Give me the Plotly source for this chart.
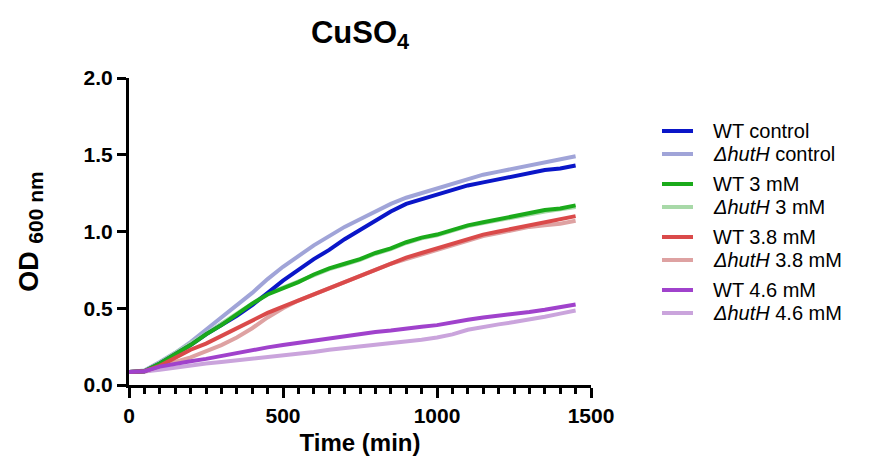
import plotly.graph_objects as go

time_min = [0, 50, 100, 150, 200, 250, 300, 350, 400, 450, 500, 550, 600, 650, 700,
            750, 800, 850, 900, 950, 1000, 1050, 1100, 1150, 1200, 1250, 1300, 1350, 1400, 1450]

wt_control = [0.085, 0.09, 0.14, 0.20, 0.26, 0.33, 0.39, 0.45, 0.52, 0.60, 0.68, 0.75, 0.82, 0.88, 0.95,
              1.01, 1.07, 1.13, 1.18, 1.21, 1.24, 1.27, 1.30, 1.32, 1.34, 1.36, 1.38, 1.40, 1.41, 1.43]
ko_control = [0.085, 0.095, 0.15, 0.21, 0.28, 0.36, 0.44, 0.52, 0.60, 0.69, 0.77, 0.84, 0.91, 0.97, 1.03,
              1.08, 1.13, 1.18, 1.22, 1.25, 1.28, 1.31, 1.34, 1.37, 1.39, 1.41, 1.43, 1.45, 1.47, 1.49]
wt_3 = [0.085, 0.09, 0.14, 0.20, 0.26, 0.33, 0.39, 0.46, 0.53, 0.59, 0.63, 0.67, 0.72, 0.76, 0.79,
        0.82, 0.86, 0.89, 0.93, 0.96, 0.98, 1.01, 1.04, 1.06, 1.08, 1.10, 1.12, 1.14, 1.15, 1.17]
ko_3 = [0.085, 0.092, 0.145, 0.205, 0.27, 0.335, 0.40, 0.465, 0.535, 0.595, 0.635, 0.675, 0.72, 0.755, 0.785,
        0.815, 0.855, 0.885, 0.925, 0.955, 0.975, 1.005, 1.035, 1.055, 1.075, 1.095, 1.115, 1.13, 1.145, 1.16]
wt_38 = [0.085, 0.09, 0.125, 0.18, 0.23, 0.27, 0.32, 0.37, 0.42, 0.47, 0.51, 0.55, 0.59, 0.63, 0.67,
         0.71, 0.75, 0.79, 0.83, 0.86, 0.89, 0.92, 0.95, 0.98, 1.00, 1.02, 1.04, 1.06, 1.08, 1.10]
ko_38 = [0.085, 0.088, 0.11, 0.15, 0.18, 0.22, 0.26, 0.31, 0.37, 0.44, 0.50, 0.55, 0.59, 0.63, 0.67,
         0.71, 0.75, 0.79, 0.82, 0.85, 0.88, 0.91, 0.94, 0.97, 0.99, 1.01, 1.03, 1.04, 1.05, 1.07]
wt_46 = [0.085, 0.09, 0.12, 0.14, 0.155, 0.17, 0.19, 0.21, 0.23, 0.245, 0.26, 0.275, 0.29, 0.30, 0.32,
         0.335, 0.345, 0.355, 0.37, 0.38, 0.39, 0.41, 0.425, 0.44, 0.45, 0.46, 0.475, 0.49, 0.505, 0.525]
ko_46 = [0.085, 0.088, 0.10, 0.115, 0.125, 0.14, 0.15, 0.16, 0.17, 0.18, 0.19, 0.20, 0.215, 0.23, 0.24,
         0.25, 0.26, 0.275, 0.285, 0.295, 0.31, 0.33, 0.36, 0.38, 0.395, 0.41, 0.425, 0.445, 0.465, 0.485]

series_names = ["WT control", "<i>ΔhutH</i> control", "WT 3 mM", "<i>ΔhutH</i> 3 mM",
                "WT 3.8 mM", "<i>ΔhutH</i> 3.8 mM", "WT 4.6 mM", "<i>ΔhutH</i> 4.6 mM"]
series_values = [wt_control, ko_control, wt_3, ko_3, wt_38, ko_38, wt_46, ko_46]
series_colors = ["#0a16c8", "#a0a4d8", "#1aaa1a", "#a8d9a8", "#da4a4a", "#dea2a2", "#a042cc", "#caa4dc"]

x_ticks = [0, 500, 1000, 1500]
y_ticks = [0.0, 0.5, 1.0, 1.5, 2.0]
y_tick_labels = ["0.0", "0.5", "1.0", "1.5", "2.0"]

fig = go.Figure()
# draw mutant (light) series first, wild type on top
draw_order = [1, 3, 5, 7, 0, 2, 4, 6]
for i in draw_order:
    fig.add_trace(go.Scatter(x=time_min, y=series_values[i], mode="lines",
                             line=dict(color=series_colors[i], width=4),
                             name=series_names[i], showlegend=False))

L, T, W, H = 129, 78, 462, 307
FIG_W, FIG_H = 878, 468

fig.update_layout(
    width=FIG_W, height=FIG_H,
    margin=dict(l=L, r=FIG_W - L - W, t=T, b=FIG_H - T - H, autoexpand=False),
    plot_bgcolor="white", paper_bgcolor="white",
    font=dict(family="Liberation Sans, Arial, sans-serif", color="black"),
    title=dict(text="<b>CuSO<sub>4</sub></b>", x=(L + W / 2) / FIG_W, xanchor="center",
               y=1 - 32 / FIG_H, yanchor="middle", font=dict(size=31, color="black")),
    showlegend=False,
)

fig.update_xaxes(
    range=[0, 1500], tickvals=x_ticks, ticktext=[str(v) for v in x_ticks],
    showline=True, linewidth=3, linecolor="black", mirror=False,
    ticks="outside", ticklen=10, tickwidth=3, tickcolor="black",
    minor=dict(dtick=50, tick0=0, ticks="outside", ticklen=6, tickwidth=2.5, tickcolor="black"),
    showgrid=False, zeroline=False,
    tickfont=dict(size=21, family="Liberation Sans, Arial", color="black", weight="bold"),
    title=dict(text="<b>Time (min)</b>", font=dict(size=24, color="black"), standoff=8),
)
fig.update_yaxes(
    range=[0, 2.0], tickvals=y_ticks, ticktext=y_tick_labels,
    showline=True, linewidth=3, linecolor="black",
    ticks="outside", ticklen=9, tickwidth=3, tickcolor="black",
    showgrid=False, zeroline=False,
    tickfont=dict(size=21, family="Liberation Sans, Arial", color="black", weight="bold"),
    title=dict(text="<b>OD <sub><span style='font-size:21px'>600 nm</span></sub></b>",
               font=dict(size=27, color="black"), standoff=38),
)

# manual legend (Prism-style compact spacing)
legend_y_px = [131, 154, 184, 207, 237, 260, 290, 313]
line_x0, line_x1, text_x = 662, 693, 711
shapes = []
for name, color, ypx in zip(series_names, series_colors, legend_y_px):
    yp = (T + H - ypx) / H
    shapes.append(dict(type="line", xref="paper", yref="paper",
                       x0=(line_x0 - L) / W, x1=(line_x1 - L) / W, y0=yp, y1=yp,
                       line=dict(color=color, width=4)))
    fig.add_annotation(xref="paper", yref="paper", x=(text_x - L) / W, y=yp,
                       xanchor="left", yanchor="middle", text=name, showarrow=False,
                       font=dict(size=20, color="black", family="Liberation Sans, Arial"))
fig.update_layout(shapes=shapes)

fig.write_html("out.html")
